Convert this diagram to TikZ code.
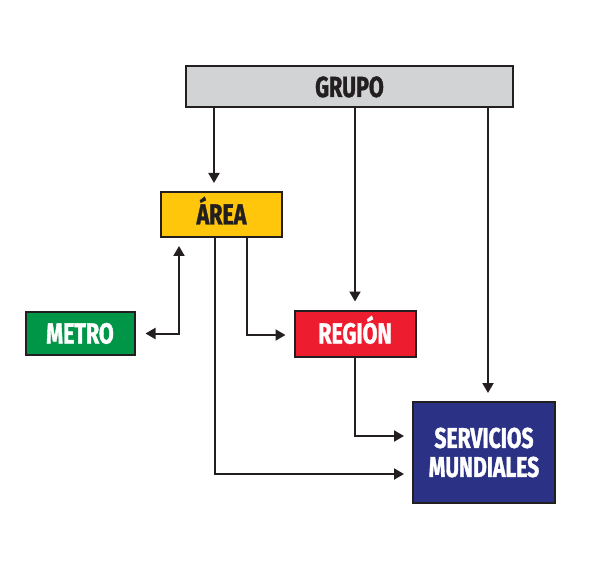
\documentclass[tikz,border=0pt]{standalone}
\usepackage{fontspec}
\usepackage{tikz}
\usetikzlibrary{arrows.meta}
\newfontfamily\boxfont{Fira Sans}[FakeStretch=0.74, BoldFeatures={FakeBold=1.3}]
\definecolor{ink}{RGB}{35,31,32}
\definecolor{grupogr}{RGB}{209,211,212}
\definecolor{areayl}{RGB}{255,198,11}
\definecolor{metrogr}{RGB}{0,150,72}
\definecolor{regionrd}{RGB}{237,28,46}
\definecolor{servbl}{RGB}{43,50,134}

\begin{document}
\begin{tikzpicture}[
            x=1pt, y=-1pt,
            box/.style={draw=ink, line width=2pt, inner sep=0pt, align=center,
                font=\boxfont\bfseries\fontsize{29}{29}\selectfont},
            onel/.style={box, text height=20pt, text depth=0pt},
            arr/.style={-{Triangle[length=10pt,width=11pt]}, ink, line width=2pt, shorten >=8pt},
            arrb/.style={{Triangle[length=10pt,width=11pt]}-{Triangle[length=10pt,width=11pt]},
                ink, line width=2pt, shorten >=8pt, shorten <=10pt}
        ]
            \useasboundingbox (0,0) rectangle (594,569);

            \node [onel, fill=grupogr, text=ink, minimum width=327pt, minimum height=41pt] (grupo) at (349.5,87) {GRUPO};
            \node [onel, fill=areayl, text=ink, minimum width=121pt, minimum height=45pt] (area) at (221.5,214.5) {ÁREA};
            \node [onel, fill=metrogr, text=white, minimum width=109pt, minimum height=43pt] (metro) at (80,333.5) {METRO};
            \node [onel, fill=regionrd, text=white, minimum width=121pt, minimum height=46pt] (regi) at (355,333.5) {REGIÓN};
            \node [box, fill=servbl, text=white, minimum width=142pt, minimum height=101pt,
                font=\boxfont\bfseries\fontsize{28.5}{29}\selectfont] (serv) at (484,452.5) {SERVICIOS\\MUNDIALES};

            % desde grupo
            \draw [arr] ([xshift=-7.5pt]area.north |- grupo.south) -- ([xshift=-7.5pt]area.north);
            \draw [arr] (regi.north |- grupo.south) -- (regi.north);
            \draw [arr] ([xshift=4pt]serv.north |- grupo.south) -- ([xshift=4pt]serv.north);

            % desde area
            \draw [arrb] (metro.east) -| ([xshift=-42.5pt]area.south);
            \draw [arr] ([xshift=25.5pt]area.south) |- ([yshift=-1.5pt]regi.west);
            \draw [arr] ([xshift=-6.5pt]area.south) |- ([yshift=-21.5pt]serv.west);

            % desde region
            \draw [arr] (regi.south) |- ([yshift=16.5pt]serv.west);
        \end{tikzpicture}
\end{document}
